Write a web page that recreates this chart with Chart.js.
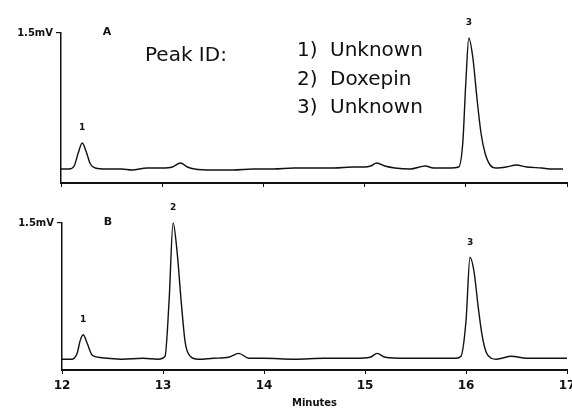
<!DOCTYPE html>
<html>
<head>
<meta charset="utf-8">
<script src="https://cdn.jsdelivr.net/npm/chart.js@4.4.1/dist/chart.umd.min.js"></script>
<style>
  html, body { margin: 0; padding: 0; background: #fff; }
  #wrap { position: relative; width: 572px; height: 409px; overflow: hidden; }
  #wrap canvas { position: absolute; left: 0; }
  #cA { top: 0; }
  #cB { top: 195px; }
</style>
</head>
<body>
<div id="wrap">
  <canvas id="cA" width="572" height="200"></canvas>
  <canvas id="cB" width="572" height="214"></canvas>
</div>
<script>
// ---- data (minutes, mV) ----
const timeA = [12.00,12.08,12.13,12.17,12.21,12.25,12.29,12.34,12.45,12.60,12.70,12.85,13.00,13.10,13.18,13.25,13.32,13.50,13.70,13.90,14.10,14.30,14.50,14.70,14.88,15.00,15.06,15.12,15.20,15.30,15.45,15.60,15.68,15.85,15.93,15.97,16.00,16.03,16.07,16.11,16.15,16.19,16.24,16.30,16.40,16.50,16.60,16.75,16.85,16.96];
const signalA = [0.14,0.14,0.17,0.30,0.40,0.31,0.19,0.15,0.14,0.14,0.13,0.15,0.15,0.16,0.20,0.16,0.14,0.13,0.13,0.14,0.14,0.15,0.15,0.15,0.16,0.16,0.17,0.20,0.17,0.15,0.14,0.17,0.15,0.15,0.16,0.40,1.00,1.45,1.25,0.85,0.50,0.30,0.18,0.15,0.16,0.18,0.16,0.15,0.14,0.14];

const timeB = [12.00,12.10,12.15,12.18,12.21,12.25,12.30,12.36,12.45,12.60,12.80,12.95,13.02,13.06,13.10,13.14,13.18,13.22,13.27,13.35,13.50,13.65,13.75,13.85,14.00,14.30,14.60,14.90,15.05,15.12,15.20,15.40,15.70,15.90,15.95,16.00,16.04,16.08,16.12,16.16,16.20,16.25,16.30,16.45,16.60,16.80,17.00];
const signalB = [0.11,0.11,0.17,0.30,0.36,0.27,0.15,0.13,0.12,0.11,0.12,0.11,0.14,0.70,1.50,1.20,0.70,0.28,0.14,0.11,0.12,0.13,0.17,0.12,0.12,0.11,0.12,0.12,0.13,0.17,0.13,0.12,0.12,0.12,0.14,0.50,1.15,1.00,0.65,0.35,0.18,0.12,0.11,0.14,0.12,0.12,0.12];

const xTicks = [12, 13, 14, 15, 16, 17];
const yTickValue = 1.5;
const yTickLabel = '1.5mV';
const xTitle = 'Minutes';

const peakTimesA = [12.21, 16.03];
const peakHeightsA = [0.40, 1.45];
const peakLabelsA = ['1', '3'];

const peakTimesB = [12.21, 13.10, 16.04];
const peakHeightsB = [0.36, 1.50, 1.15];
const peakLabelsB = ['1', '2', '3'];

const peakIdTitle = 'Peak ID:';
const peakIdNums = ['1)', '2)', '3)'];
const peakIdNames = ['Unknown', 'Doxepin', 'Unknown'];

// ---- helpers ----
function toPoints(t, v) { return t.map((x, i) => ({ x: x, y: v[i] })); }

function textPlugin(letter, times, heights, labels, withLegend) {
  return {
    id: 'texts' + letter,
    afterDraw(chart) {
      const ctx = chart.ctx;
      const xs = chart.scales.x, ys = chart.scales.y, ca = chart.chartArea;
      ctx.save();
      ctx.fillStyle = '#111';
      ctx.textAlign = 'center';
      ctx.textBaseline = 'middle';
      ctx.font = 'bold 11px "DejaVu Sans"';
      ctx.fillText(letter, ca.left + 46, ca.top - 1);
      ctx.font = 'bold 9px "DejaVu Sans"';
      times.forEach((t, i) => {
        ctx.fillText(labels[i], xs.getPixelForValue(t), ys.getPixelForValue(heights[i]) - 15);
      });
      if (withLegend) {
        ctx.textAlign = 'left';
        ctx.font = '20px "DejaVu Sans"';
        ctx.fillText(peakIdTitle, 145, 56);
        peakIdNums.forEach((n, i) => {
          const y = 51 + i * 28.5;
          ctx.fillText(n, 297, y);
          ctx.fillText(peakIdNames[i], 330, y);
        });
      }
      ctx.restore();
    }
  };
}

function makeChart(id, t, v, opts) {
  return new Chart(document.getElementById(id), {
    type: 'line',
    data: {
      datasets: [{
        data: toPoints(t, v),
        borderColor: '#111',
        borderWidth: 1.4,
        pointRadius: 0,
        cubicInterpolationMode: 'monotone',
        fill: false,
        clip: false
      }]
    },
    options: {
      responsive: false,
      animation: false,
      events: [],
      layout: { padding: { left: 0, right: 5, top: opts.top, bottom: 0 } },
      plugins: { legend: { display: false }, tooltip: { enabled: false } },
      scales: {
        x: {
          type: 'linear', min: 12, max: 17,
          afterBuildTicks: (s) => { s.ticks = xTicks.map(x => ({ value: x })); },
          afterFit: (s) => { s.height = opts.xh; s.paddingLeft = 0; s.paddingRight = 0; },
          border: { display: true, color: '#111', width: 2 },
          grid: { drawOnChartArea: false, drawTicks: true, tickLength: 4, color: '#111', lineWidth: 1 },
          ticks: {
            display: opts.xlabels, padding: 5, color: '#111',
            font: { family: '"DejaVu Sans"', size: 12, weight: 'bold' },
            callback: (val) => String(val)
          },
          title: {
            display: opts.xlabels, text: xTitle, color: '#111', padding: { top: 4, bottom: 0 },
            font: { family: '"DejaVu Sans"', size: 10, weight: 'bold' }
          }
        },
        y: {
          type: 'linear', min: 0, max: 1.5,
          afterBuildTicks: (s) => { s.ticks = [{ value: yTickValue }]; },
          afterFit: (s) => { s.width = opts.yw; },
          border: { display: true, color: '#111', width: 1.5 },
          grid: { drawOnChartArea: false, drawTicks: true, tickLength: 5, color: '#111', lineWidth: 1.2 },
          ticks: {
            padding: 3, color: '#111',
            font: { family: '"DejaVu Sans"', size: 10, weight: 'bold' },
            callback: () => yTickLabel
          }
        }
      }
    },
    plugins: [opts.plugin]
  });
}

makeChart('cA', timeA, signalA, {
  top: 33, xh: 17, yw: 61, xlabels: false,
  plugin: textPlugin('A', peakTimesA, peakHeightsA, peakLabelsA, true)
});
makeChart('cB', timeB, signalB, {
  top: 28, xh: 39, yw: 62, xlabels: true,
  plugin: textPlugin('B', peakTimesB, peakHeightsB, peakLabelsB, false)
});
</script>
</body>
</html>
